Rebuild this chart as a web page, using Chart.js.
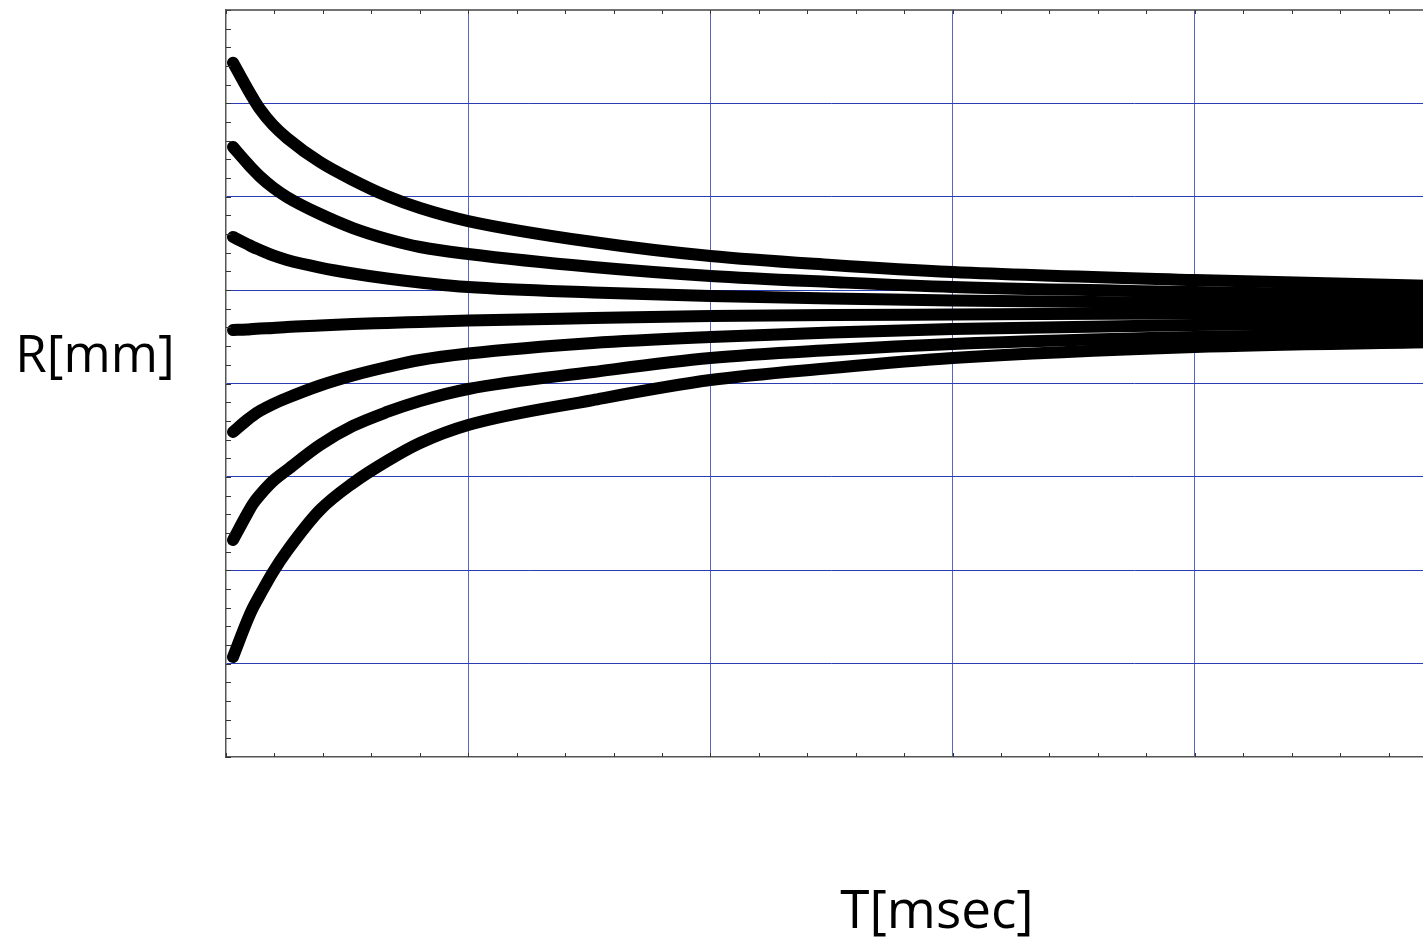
<!DOCTYPE html>
<html>
<head>
<meta charset="utf-8">
<script src="https://cdn.jsdelivr.net/npm/chart.js@4/dist/chart.umd.min.js"></script>
<style>
  html, body { margin: 0; padding: 0; background: #fff; overflow: hidden; width: 1423px; height: 938px; }
  #wrap { position: relative; width: 1423px; height: 938px; overflow: hidden; }
  canvas { position: absolute; left: 0; top: 0; }
  .lbl { position: absolute; font-family: "Open Sans", sans-serif; font-size: 51px; line-height: 51px; color: #000; white-space: nowrap; text-align: center; }
</style>
</head>
<body>
<div id="wrap">
  <canvas id="c" width="1440" height="938"></canvas>
  <div class="lbl" id="ylab" style="left:0px; top:327px; width:190px;">R[mm]</div>
  <div class="lbl" id="xlab" style="left:832px; top:882px; width:210px; font-size:53px;">T[msec]</div>
</div>
<script>
// ---- data ----
const T = [0.029, 0.087, 0.111, 0.140, 0.194, 0.252, 0.388, 0.524, 0.665, 0.801, 1.0, 1.515, 2.0, 2.5, 3.0, 4.0, 5.0];
const R1 = [7.436, 7.165, 7.058, 6.940, 6.768, 6.629, 6.372, 6.179, 6.008, 5.880, 5.740, 5.515, 5.365, 5.269, 5.194, 5.108, 5.044];
const R2 = [6.533, 6.361, 6.292, 6.217, 6.099, 5.997, 5.815, 5.665, 5.548, 5.462, 5.387, 5.248, 5.152, 5.087, 5.033, 4.980, 4.937];
const R3 = [5.569, 5.494, 5.462, 5.430, 5.371, 5.323, 5.242, 5.178, 5.124, 5.082, 5.033, 4.975, 4.937, 4.910, 4.889, 4.862, 4.841];
const R4 = [4.573, 4.578, 4.584, 4.589, 4.594, 4.605, 4.621, 4.637, 4.648, 4.659, 4.675, 4.701, 4.723, 4.734, 4.739, 4.750, 4.755];
const R5 = [3.481, 3.609, 3.657, 3.706, 3.780, 3.845, 3.979, 4.086, 4.177, 4.252, 4.321, 4.434, 4.498, 4.546, 4.584, 4.627, 4.648];
const R6 = [2.324, 2.602, 2.710, 2.806, 2.956, 3.074, 3.341, 3.545, 3.695, 3.813, 3.941, 4.123, 4.273, 4.359, 4.423, 4.498, 4.541];
const R7 = [1.071, 1.456, 1.596, 1.735, 1.981, 2.206, 2.645, 2.934, 3.170, 3.363, 3.556, 3.823, 4.037, 4.166, 4.273, 4.391, 4.444];
const SERIES = [R1, R2, R3, R4, R5, R6, R7];
const X_MIN = 0, X_MAX = 5, Y_MIN = 0, Y_MAX = 8;
const MINOR = 5;

const datasets = SERIES.map((s, i) => ({
  label: 'R' + (i + 1),
  data: T.map((t, j) => ({ x: t, y: s[j] })),
  borderColor: '#000',
  backgroundColor: '#000',
  borderWidth: 12,
  borderCapStyle: 'round',
  borderJoinStyle: 'round',
  pointRadius: 0,
  cubicInterpolationMode: 'monotone',
  fill: false
}));

const frame = {
  id: 'frame',
  afterDraw(chart) {
    const { ctx, chartArea: a, scales: { x, y } } = chart;
    ctx.save();
    ctx.strokeStyle = '#333';
    ctx.lineWidth = 1;
    for (let k = 0; k <= (X_MAX - X_MIN) * MINOR; k++) {
      const px = Math.round(x.getPixelForValue(X_MIN + k / MINOR)) + 0.5;
      ctx.beginPath(); ctx.moveTo(px, a.bottom); ctx.lineTo(px, a.bottom - 4); ctx.stroke();
      ctx.beginPath(); ctx.moveTo(px, a.top); ctx.lineTo(px, a.top + 4); ctx.stroke();
    }
    for (let k = 0; k <= (Y_MAX - Y_MIN) * MINOR; k++) {
      const py = Math.round(y.getPixelForValue(Y_MIN + k / MINOR)) + 0.5;
      ctx.beginPath(); ctx.moveTo(a.left, py); ctx.lineTo(a.left + 5, py); ctx.stroke();
    }
    ctx.strokeStyle = '#444';
    ctx.lineWidth = 1.5;
    ctx.beginPath(); ctx.moveTo(a.left, a.top); ctx.lineTo(a.right, a.top); ctx.stroke();
    ctx.restore();
  }
};

new Chart(document.getElementById('c'), {
  type: 'line',
  data: { datasets },
  options: {
    responsive: false,
    animation: false,
    devicePixelRatio: 1,
    layout: { padding: { left: 226, top: 10, right: 3, bottom: 181 } },
    plugins: { legend: { display: false }, tooltip: { enabled: false } },
    scales: {
      x: {
        type: 'linear', min: X_MIN, max: X_MAX,
        ticks: { display: false, stepSize: 1 },
        grid: { color: (c) => (c.tick && c.tick.value > X_MIN && c.tick.value < X_MAX) ? '#5565c0' : 'transparent', lineWidth: 1, drawTicks: false },
        border: { display: true, color: '#555', width: 1.5 }
      },
      y: {
        type: 'linear', min: Y_MIN, max: Y_MAX,
        ticks: { display: false, stepSize: 1 },
        grid: { color: (c) => (c.tick && c.tick.value > Y_MIN && c.tick.value < Y_MAX) ? '#2a3cb4' : 'transparent', lineWidth: 1, drawTicks: false },
        border: { display: true, color: '#555', width: 1.5 }
      }
    }
  },
  plugins: [frame]
});
</script>
</body>
</html>
